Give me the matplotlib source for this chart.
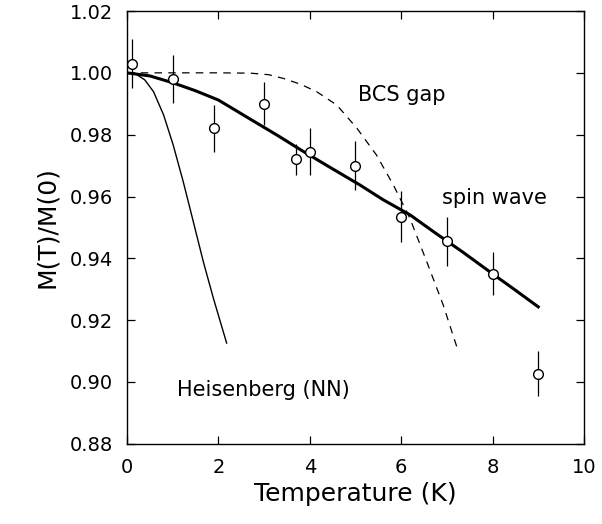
import matplotlib
matplotlib.use("Agg")
import matplotlib.pyplot as plt
import numpy as np

# measured points
temp = [0.1, 1.0, 1.9, 3.0, 3.7, 4.0, 5.0, 6.0, 7.0, 8.0, 9.0]
mag = [1.003, 0.998, 0.982, 0.990, 0.972, 0.9745, 0.970, 0.9535, 0.9455, 0.935, 0.9027]
mag_err = [0.008, 0.0078, 0.0076, 0.007, 0.005, 0.0076, 0.008, 0.0083, 0.008, 0.007, 0.0073]

# spin wave fit
sw_t = [0.0, 0.5, 1.0, 1.5, 2.0, 2.7, 3.3, 3.8, 4.4, 5.1, 5.6, 6.2, 6.7, 7.35, 8.0, 8.5, 9.0]
sw_m = [1.0, 0.9990, 0.9968, 0.9942, 0.9912, 0.9850, 0.9797, 0.9751, 0.9698, 0.9637, 0.9590,
        0.9540, 0.9487, 0.9420, 0.9350, 0.9297, 0.9243]

# BCS gap
bcs_t = [0.0, 1.0, 2.0, 2.7, 3.1, 3.42, 3.8, 4.15, 4.59, 5.03, 5.46, 5.83, 6.19, 6.56, 6.92, 7.25]
bcs_m = [1.0, 1.0, 1.0, 0.9999, 0.9994, 0.9982, 0.9963, 0.9939, 0.9896, 0.9821, 0.9734,
         0.9637, 0.9530, 0.9389, 0.9249, 0.9099]

# Heisenberg (NN)
hb_t = [0.0, 0.175, 0.39, 0.58, 0.80, 1.01, 1.23, 1.45, 1.67, 1.89, 2.18]
hb_m = [1.0, 0.9998, 0.9977, 0.9939, 0.9864, 0.9767, 0.9648, 0.9519, 0.9389, 0.9271, 0.9126]

fig = plt.figure(figsize=(6.02, 5.24), dpi=100)
ax = fig.add_axes([0.211, 0.153, 0.759, 0.826])

ax.plot(sw_t, sw_m, color="black", lw=2.2)
ax.plot(bcs_t, bcs_m, color="black", lw=0.9, ls=(0, (6, 5)))
ax.plot(hb_t, hb_m, color="black", lw=1.0)
ax.errorbar(temp, mag, yerr=mag_err, fmt="o", color="black", mfc="white", mec="black",
            ms=7, mew=1.0, elinewidth=0.9, capsize=0, zorder=5)

ax.text(5.05, 0.9928, "BCS gap", fontsize=15, va="center", ha="left")
ax.text(6.9, 0.9596, "spin wave", fontsize=15, va="center", ha="left")
ax.text(1.1, 0.8975, "Heisenberg (NN)", fontsize=15, va="center", ha="left")

ax.set_xlim(0, 10)
ax.set_ylim(0.88, 1.02)
ax.set_xticks([0, 2, 4, 6, 8, 10])
ax.set_yticks(np.arange(0.88, 1.021, 0.02))
ax.set_yticklabels([f"{v:.2f}" for v in np.arange(0.88, 1.021, 0.02)])
ax.tick_params(direction="in", length=6, width=0.9, top=True, right=True, labelsize=14, pad=10)
for s in ax.spines.values():
    s.set_linewidth(1.0)

ax.set_xlabel("Temperature (K)", fontsize=18, labelpad=4)
ax.set_ylabel("M(T)/M(0)", fontsize=18, labelpad=8)

fig.savefig("out.png", dpi=100)
